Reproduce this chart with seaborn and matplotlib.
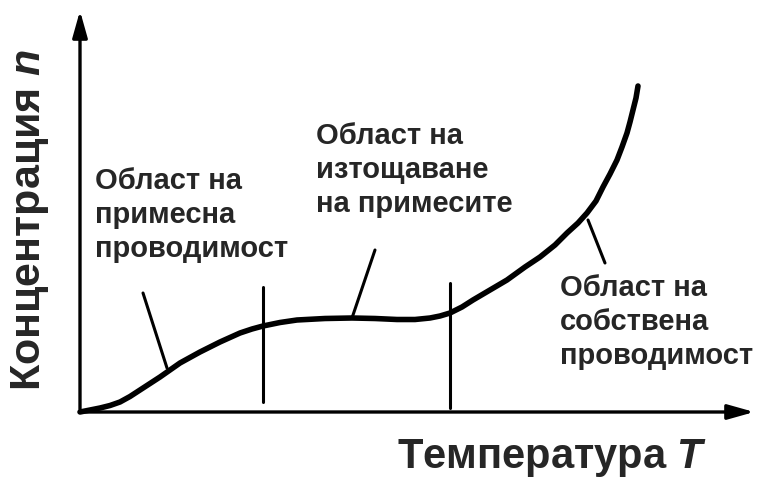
import matplotlib
matplotlib.use("Agg")
import matplotlib.pyplot as plt
import seaborn as sns
import pandas as pd

# curve: temperature T vs concentration n (arbitrary units)
T = [0.0, 0.1, 0.2, 0.3, 0.4, 0.5, 0.6, 0.7, 0.8, 0.9, 1.0, 1.1, 1.2, 1.3, 1.4, 1.5, 1.6,
     1.72, 1.83, 2.0, 2.17, 2.45, 2.72, 2.95, 3.17, 3.35, 3.5, 3.6, 3.7, 3.82, 3.93, 4.1,
     4.27, 4.45, 4.6, 4.75, 4.87, 4.98, 5.07, 5.16, 5.23, 5.3, 5.37, 5.42, 5.47, 5.5,
     5.53, 5.56, 5.58]
n = [0.0, 0.02, 0.04, 0.065, 0.10, 0.155, 0.22, 0.285, 0.35, 0.42, 0.49, 0.545, 0.60, 0.65,
     0.70, 0.745, 0.79, 0.83, 0.86, 0.895, 0.92, 0.935, 0.94, 0.935, 0.925, 0.925, 0.94,
     0.96, 0.99, 1.05, 1.12, 1.22, 1.32, 1.45, 1.55, 1.67, 1.79, 1.89, 1.99, 2.11, 2.25,
     2.38, 2.52, 2.65, 2.79, 2.9, 3.02, 3.14, 3.26]

# region boundaries
bounds = [1.83, 3.7]
bound_lo = [0.1, 0.04]
bound_hi = [1.25, 1.29]

labels = ["Област на\nпримесна\nпроводимост",
          "Област на\nизтощаване\nна примесите",
          "Област на\nсобствена\nпроводимост"]
label_pos = [(0.15, 2.45), (2.36, 2.90), (4.8, 1.38)]
leader_from = [(0.63, 1.19), (2.95, 1.62), (5.08, 1.92)]
leader_to = [(0.87, 0.44), (2.72, 0.94), (5.25, 1.49)]

sns.set_style("white")
plt.rcParams["font.family"] = ["Liberation Sans", "DejaVu Sans"]
plt.rcParams["mathtext.fontset"] = "custom"
plt.rcParams["mathtext.it"] = "Liberation Sans:italic:bold"

fig = plt.figure(figsize=(7.65, 4.95), dpi=100)
ax = fig.add_axes([0, 0, 1, 1])
ax.set_xlim(-0.8, 6.85)
ax.set_ylim(-0.83, 4.12)
ax.axis("off")

df = pd.DataFrame({"T": T, "n": n})
sns.lineplot(data=df, x="T", y="n", sort=False, color="black", linewidth=4.0, ax=ax)

for b, lo, hi in zip(bounds, bound_lo, bound_hi):
    ax.plot([b, b], [lo, hi], color="black", linewidth=2.2)

# axes arrows
ax.annotate("", xy=(6.77, 0), xytext=(0, 0),
            arrowprops=dict(arrowstyle="-|>,head_length=1.6,head_width=0.45", color="black", lw=2.4))
ax.annotate("", xy=(0, 4.04), xytext=(0, 0),
            arrowprops=dict(arrowstyle="-|>,head_length=1.6,head_width=0.45", color="black", lw=2.4))

for lab, (x, y) in zip(labels, label_pos):
    ax.text(x, y, lab, fontsize=21, fontweight="bold", ha="left", va="top", linespacing=1.28)
for (x0, y0), (x1, y1) in zip(leader_from, leader_to):
    ax.plot([x0, x1], [y0, y1], color="black", linewidth=2.2)

ax.text(4.72, -0.46, "Температура $T$", fontsize=30, fontweight="bold", ha="center", va="center")
ax.text(-0.5, 1.92, "Концентрация $n$", fontsize=31, fontweight="bold", ha="center", va="center", rotation=90)

plt.savefig("out.png", dpi=100)
